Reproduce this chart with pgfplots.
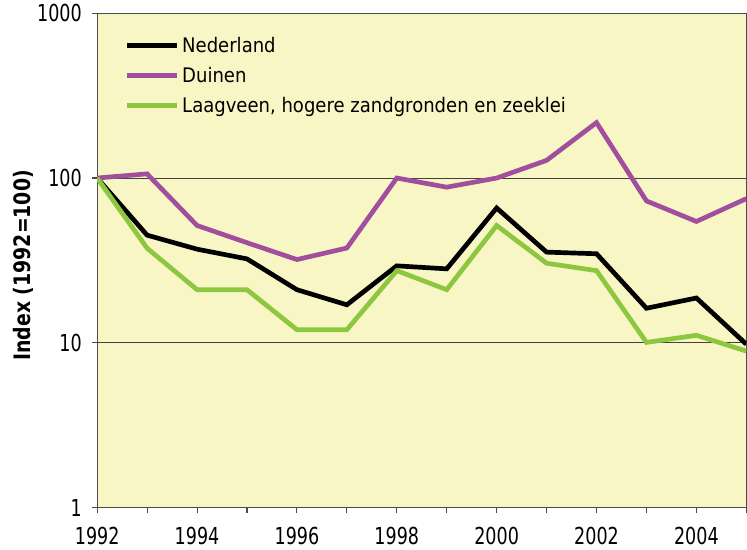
\documentclass[border=0pt]{standalone}
\usepackage{fontspec}
\setmainfont[FakeStretch=0.9]{DejaVu Sans}
\newfontfamily\tickfont[FakeStretch=0.75]{DejaVu Sans}
\newfontfamily\labfont[FakeStretch=0.83]{DejaVu Sans}
\usepackage{pgfplots}
\pgfplotsset{compat=1.18}
\definecolor{bg}{RGB}{248,246,196}
\definecolor{duin}{RGB}{162,78,158}
\definecolor{laag}{RGB}{141,198,63}
\begin{document}
\begin{tikzpicture}
\begin{axis}[
  width=486pt, height=370pt, scale only axis,
  xmin=1992, xmax=2005, ymin=1, ymax=1000, ymode=log,
  axis background/.style={fill=bg},
  xtick={1992,1994,...,2004},
  xticklabels={1992,1994,1996,1998,2000,2002,2004},
  minor xtick={1993,1995,...,2005},
  ytick={1,10,100,1000}, yticklabels={1,10,100,1000},
  yminorticks=false,
  ymajorgrids, major grid style={black!75, line width=0.6pt},
  tick align=outside, major tick length=4pt, minor tick length=4pt,
  tick style={color=black!70, line width=0.8pt},
  axis line style={black!70, line width=1pt},
  xtick pos=bottom, ytick pos=left,
  tick label style={font=\tickfont\fontsize{17.5}{19}\selectfont},
  xticklabel style={yshift=-7.5pt},
  yticklabel style={xshift=-4pt},
  ylabel={\bfseries Index (1992=100)},
  ylabel style={font=\labfont\fontsize{17}{19}\selectfont, at={(axis description cs:-0.113,0.49)}, anchor=center},
  legend style={at={(0.038,0.963)}, anchor=north west, draw=none, fill=none,
    font=\fontsize{15}{17}\selectfont, row sep=5.5pt,
    legend cell align=left, inner sep=2pt},
  legend image code/.code={\draw[#1, line width=3.5pt] (0pt,0pt) -- (37.5pt,0pt);},
  every axis plot/.append style={line width=3.5pt, line join=miter},
]
\addplot[black] coordinates {(1992,100)(1993,45)(1994,37)(1995,32.3)(1996,21)(1997,17)(1998,29.3)(1999,28.1)(2000,65.8)(2001,35.5)(2002,34.7)(2003,16.2)(2004,18.7)(2005,9.8)};
\addlegendentry{Nederland}
\addplot[duin] coordinates {(1992,100)(1993,106)(1994,51.5)(1995,40.5)(1996,32)(1997,37.6)(1998,100)(1999,88)(2000,100)(2001,128)(2002,217)(2003,72.6)(2004,54.5)(2005,75)};
\addlegendentry{Duinen}
\addplot[laag] coordinates {(1992,100)(1993,37.5)(1994,21)(1995,21)(1996,12)(1997,12)(1998,27.4)(1999,21)(2000,51.5)(2001,30.4)(2002,27.4)(2003,10.05)(2004,11.1)(2005,8.9)};
\addlegendentry{Laagveen, hogere zandgronden en zeeklei}
\end{axis}
\path ([xshift=-72.75pt]current axis.south west);
\end{tikzpicture}
\end{document}
